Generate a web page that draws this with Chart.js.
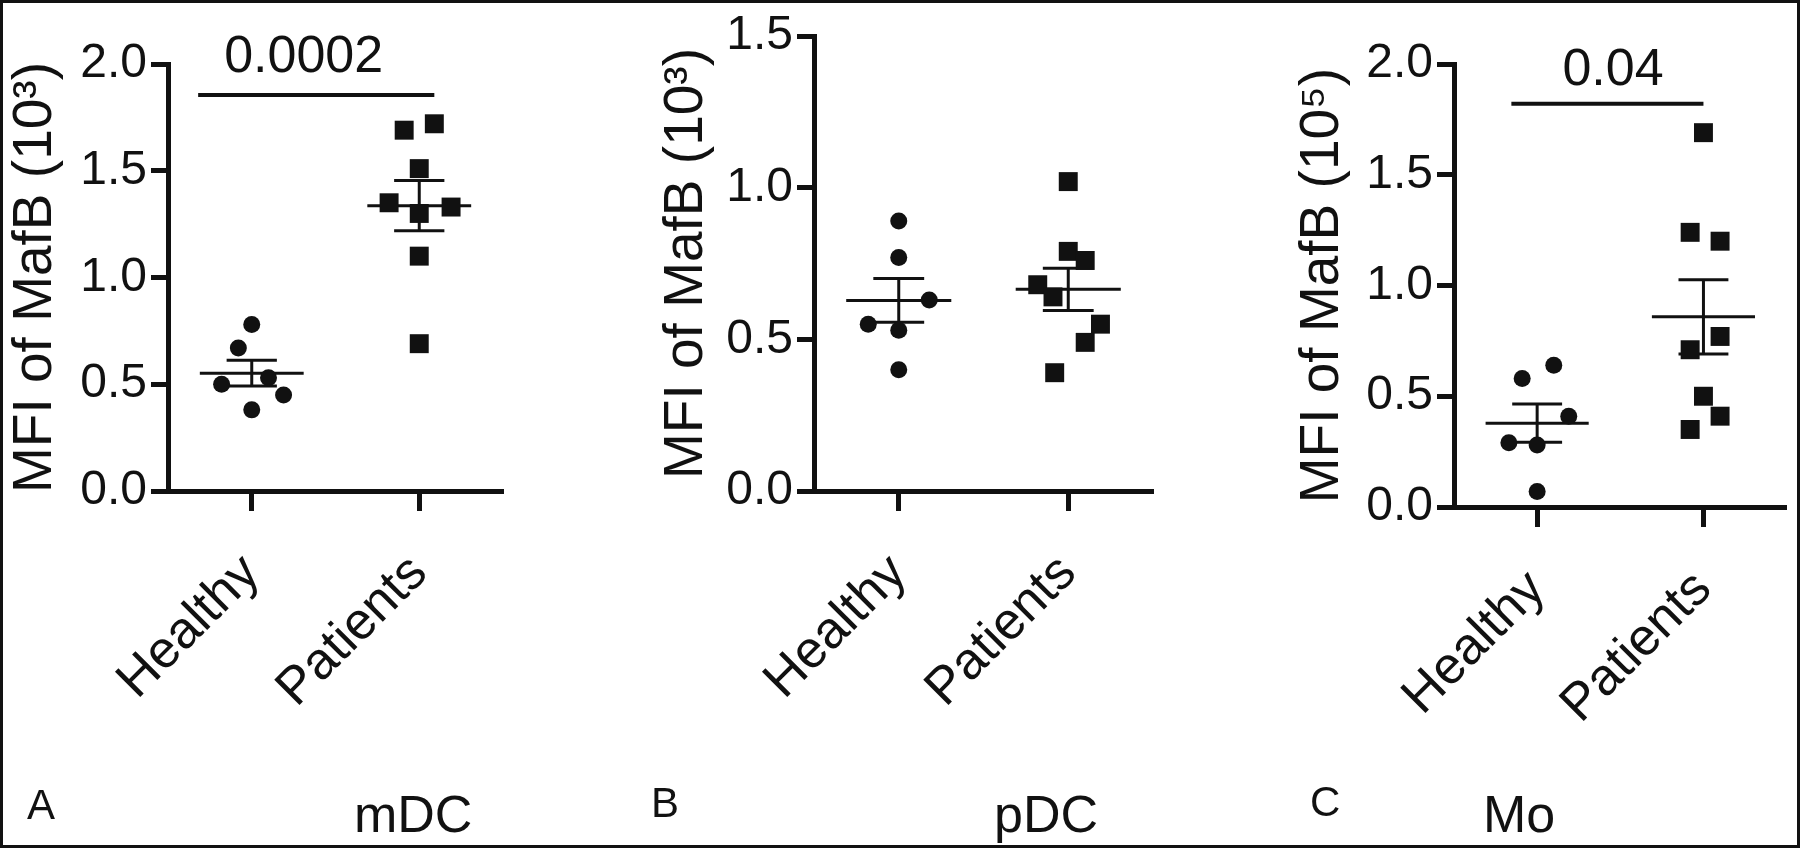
<!DOCTYPE html>
<html>
<head>
<meta charset="utf-8">
<script src="https://cdn.jsdelivr.net/npm/chart.js@4.4.1/dist/chart.umd.min.js"></script>
<style>
  html, body { margin: 0; padding: 0; background: #fff; }
  #fig { position: relative; width: 1800px; height: 848px; overflow: hidden; background: #fff; }
  #fig canvas { position: absolute; left: 0; top: 0; }
  #frame { position: absolute; left: 0; top: 0; width: 1800px; height: 848px; box-sizing: border-box;
           border: 3px solid #111; pointer-events: none; }
  .lbl { position: absolute; font-family: "Liberation Sans", Arial, sans-serif; color: #111; line-height: 1; white-space: nowrap; }
</style>
</head>
<body>
<div id="fig">
  <canvas id="chartA" width="1800" height="848"></canvas>
  <canvas id="chartB" width="1800" height="848"></canvas>
  <canvas id="chartC" width="1800" height="848"></canvas>
  <div class="lbl" style="left:27px; top:784px; font-size:42px;">A</div>
  <div class="lbl" style="left:354px; top:788px; font-size:52px;">mDC</div>
  <div class="lbl" style="left:651px; top:782px; font-size:42px;">B</div>
  <div class="lbl" style="left:994px; top:788px; font-size:52px;">pDC</div>
  <div class="lbl" style="left:1310px; top:781px; font-size:42px;">C</div>
  <div class="lbl" style="left:1483px; top:788px; font-size:52px;">Mo</div>
  <div id="frame"></div>
</div>
<script>
var groupLabels = ["Healthy", "Patients"];

// A - mDC, MFI of MafB (10^3)
var mdcHealthy = [0.78, 0.67, 0.50, 0.53, 0.45, 0.38];
var mdcHealthyX = [1.0, 0.92, 0.82, 1.10, 1.19, 1.0];
var mdcPatients = [1.69, 1.72, 1.51, 1.35, 1.33, 1.30, 1.10, 0.69];
var mdcPatientsX = [1.91, 2.09, 2.0, 1.82, 2.19, 2.0, 2.0, 2.0];
var mdcTicks = [0, 0.5, 1.0, 1.5, 2.0];

// B - pDC, MFI of MafB (10^3)
var pdcHealthy = [0.89, 0.77, 0.63, 0.55, 0.53, 0.40];
var pdcHealthyX = [1.0, 1.0, 1.18, 0.82, 1.0, 1.0];
var pdcPatients = [1.02, 0.79, 0.76, 0.68, 0.64, 0.55, 0.49, 0.39];
var pdcPatientsX = [2.0, 2.0, 2.1, 1.82, 1.91, 2.19, 2.1, 1.92];
var pdcTicks = [0, 0.5, 1.0, 1.5];

// C - Mo, MFI of MafB (10^5)
var moHealthy = [0.64, 0.58, 0.41, 0.29, 0.28, 0.07];
var moHealthyX = [1.1, 0.91, 1.19, 0.83, 1.0, 1.0];
var moPatients = [1.69, 1.24, 1.20, 0.77, 0.71, 0.50, 0.41, 0.35];
var moPatientsX = [2.0, 1.92, 2.1, 2.1, 1.92, 2.0, 2.1, 1.92];
var moTicks = [0, 0.5, 1.0, 1.5, 2.0];

var INK = "#111";
var FONT = '"Liberation Sans", Arial, sans-serif';

function mean(a) {
    var s = 0;
    a.forEach(function (v) { s += v; });
    return s / a.length;
}

function sem(a) {
    var m = mean(a), s = 0;
    a.forEach(function (v) { s += (v - m) * (v - m); });
    return Math.sqrt(s / (a.length - 1)) / Math.sqrt(a.length);
}

function toPoints(xs, ys) {
    return ys.map(function (y, i) { return { x: xs[i], y: y }; });
}

function segment(x1, y1, x2, y2, width) {
    return {
        data: [{ x: x1, y: y1 }, { x: x2, y: y2 }],
        showLine: true,
        borderColor: INK,
        borderWidth: width,
        pointRadius: 0,
        clip: false
    };
}

// mean line + SEM whiskers for one group
function meanSem(values, center) {
    var m = mean(values), e = sem(values);
    return [
        segment(center - 0.31, m, center + 0.31, m, 3),
        segment(center, m - e, center, m + e, 3),
        segment(center - 0.15, m + e, center + 0.15, m + e, 3),
        segment(center - 0.15, m - e, center + 0.15, m - e, 3)
    ];
}

// draws the p value above the bracket
var sigLabel = {
    id: "sigLabel",
    afterDatasetsDraw: function (chart, args, opts) {
        if (!opts.text) return;
        var ctx = chart.ctx;
        ctx.save();
        ctx.font = "52px " + FONT;
        ctx.fillStyle = INK;
        ctx.textAlign = "center";
        ctx.textBaseline = "middle";
        ctx.fillText(opts.text, chart.scales.x.getPixelForValue(opts.x), chart.scales.y.getPixelForValue(opts.y));
        ctx.restore();
    }
};

function makePanel(canvasId, p) {
    var datasets = [
        {
            data: toPoints(p.healthyX, p.healthy),
            pointStyle: "circle", pointRadius: 8.5, pointHoverRadius: 8.5,
            backgroundColor: INK, borderWidth: 0, clip: false
        },
        {
            data: toPoints(p.patientsX, p.patients),
            pointStyle: "rect", pointRadius: 13.4, pointHoverRadius: 13.4,
            backgroundColor: INK, borderWidth: 0, clip: false
        }
    ];
    datasets = datasets.concat(meanSem(p.healthy, 1), meanSem(p.patients, 2));
    if (p.sig) {
        datasets.push(segment(p.sig.x1, p.sig.y, p.sig.x2, p.sig.y, 4));
    }

    var ctx = document.getElementById(canvasId).getContext("2d");
    return new Chart(ctx, {
        type: "scatter",
        data: { datasets: datasets },
        plugins: [sigLabel],
        options: {
            responsive: false,
            animation: false,
            events: [],
            layout: { padding: { left: p.padLeft, top: p.top, right: p.right, bottom: 0 } },
            plugins: {
                legend: { display: false },
                tooltip: { enabled: false },
                sigLabel: p.sig ? { text: p.sig.text, x: p.sig.tx, y: p.sig.ty } : {}
            },
            scales: {
                x: {
                    type: "linear",
                    min: 0.5,
                    max: 2.5,
                    afterBuildTicks: function (scale) {
                        scale.ticks = groupLabels.map(function (l, i) { return { value: i + 1 }; });
                    },
                    afterFit: function (scale) { scale.height = p.xHeight; },
                    ticks: {
                        autoSkip: false,
                        minRotation: 45,
                        maxRotation: 45,
                        padding: 32,
                        color: INK,
                        font: { family: FONT, size: 52 },
                        callback: function (v, i) { return groupLabels[i]; }
                    },
                    grid: {
                        display: true, drawOnChartArea: false,
                        tickLength: 20, tickWidth: 5, tickColor: INK
                    },
                    border: { display: true, width: 5, color: INK }
                },
                y: {
                    type: "linear",
                    min: p.yTicks[0],
                    max: p.yTicks[p.yTicks.length - 1],
                    afterBuildTicks: function (scale) {
                        scale.ticks = p.yTicks.map(function (v) { return { value: v }; });
                    },
                    afterFit: function (scale) { scale.width = p.yWidth; },
                    ticks: {
                        padding: 4,
                        color: INK,
                        font: { family: FONT, size: 48 },
                        callback: function (v) { return Number(v).toFixed(1); }
                    },
                    grid: {
                        display: true, drawOnChartArea: false,
                        tickLength: 17, tickWidth: 5, tickColor: INK
                    },
                    border: { display: true, width: 5, color: INK },
                    title: {
                        display: true,
                        text: p.yTitle,
                        color: INK,
                        padding: 0,
                        font: { family: FONT, size: 55, lineHeight: 1.2 }
                    }
                }
            }
        }
    });
}

makePanel("chartA", {
    healthy: mdcHealthy, healthyX: mdcHealthyX,
    patients: mdcPatients, patientsX: mdcPatientsX,
    yTicks: mdcTicks, yTitle: "MFI of MafB (10³)",
    sig: { text: "0.0002", x1: 0.68, x2: 2.09, y: 1.855, tx: 1.31, ty: 2.03 },
    padLeft: 3, yWidth: 165, top: 64, right: 1297, xHeight: 357
});

makePanel("chartB", {
    healthy: pdcHealthy, healthyX: pdcHealthyX,
    patients: pdcPatients, patientsX: pdcPatientsX,
    yTicks: pdcTicks, yTitle: "MFI of MafB (10³)",
    sig: null,
    padLeft: 654, yWidth: 160, top: 36, right: 647, xHeight: 357
});

makePanel("chartC", {
    healthy: moHealthy, healthyX: moHealthyX,
    patients: moPatients, patientsX: moPatientsX,
    yTicks: moTicks, yTitle: "MFI of MafB (10⁵)",
    sig: { text: "0.04", x1: 0.845, x2: 2.0, y: 1.82, tx: 1.456, ty: 1.97 },
    padLeft: 1290, yWidth: 164, top: 64, right: 7, xHeight: 341
});
</script>
</body>
</html>
